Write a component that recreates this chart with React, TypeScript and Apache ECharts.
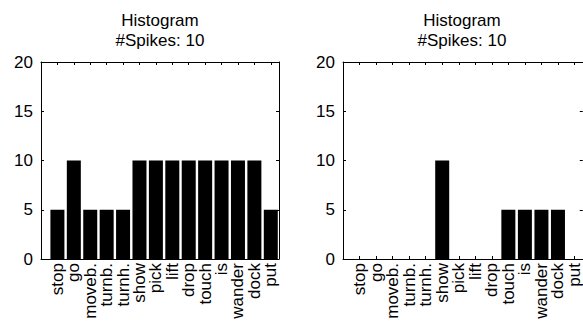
import React, { useEffect, useRef } from "react";
import * as echarts from "echarts";

const categories = ["stop", "go", "moveb.", "turnb.", "turnh.", "show", "pick", "lift", "drop", "touch", "is", "wander", "dock", "put"];
const leftValues = [5, 10, 5, 5, 5, 10, 10, 10, 10, 10, 10, 10, 10, 5];
const rightValues = [0, 0, 0, 0, 0, 10, 0, 0, 0, 5, 5, 5, 5, 0];
const titleLine1 = "Histogram";
const titleLine2 = "#Spikes: 10";
const yTicks = [0, 5, 10, 15, 20];

const FONT = "Liberation Sans, Arial, Helvetica, sans-serif";

export default function App() {
  const ref = useRef<HTMLDivElement>(null);
  useEffect(() => {
    if (!ref.current) return;
    const chart = echarts.init(ref.current, null, { renderer: "svg" });
    const grids = [
      { left: 41, top: 62, width: 238, height: 197 },
      { left: 343, top: 62, width: 240, height: 197 },
    ];
    const xAxes: any[] = [];
    const yAxes: any[] = [];
    grids.forEach((g, i) => {
      const base = {
        type: "value",
        min: 0,
        max: categories.length + 0.5,
        interval: 1,
        gridIndex: i,
        splitLine: { show: false },
        axisLine: { show: true, onZero: false, lineStyle: { color: "#000", width: 1 } },
        axisTick: { show: true, inside: true, length: 3, lineStyle: { color: "#000" } },
      };
      xAxes.push({
        ...base,
        position: "bottom",
        axisLabel: {
          show: true,
          rotate: 90,
          margin: 4,
          fontSize: 17,
          fontFamily: FONT,
          color: "#000",
          showMinLabel: true,
          showMaxLabel: true,
          formatter: (v: number) => (Number.isInteger(v) && v >= 1 && v <= categories.length ? categories[v - 1] : ""),
        },
      });
      xAxes.push({ ...base, position: "top", axisLabel: { show: false } });
      const ybase = {
        type: "value",
        min: yTicks[0],
        max: yTicks[yTicks.length - 1],
        interval: 5,
        gridIndex: i,
        splitLine: { show: false },
        axisLine: { show: true, onZero: false, lineStyle: { color: "#000", width: 1 } },
        axisTick: { show: true, inside: true, length: 3, lineStyle: { color: "#000" } },
      };
      yAxes.push({
        ...ybase,
        position: "left",
        axisLabel: { show: true, margin: 8, fontSize: 17, fontFamily: FONT, color: "#000", padding: [6, 0, 0, 0] },
      });
      yAxes.push({ ...ybase, position: "right", axisLabel: { show: false } });
    });

    const mkData = (vals: number[]) => vals.map((v, i) => [i + 1, v]);
    const titleGraphics: any[] = [];
    grids.forEach((g) => {
      const cx = g.left + 238 / 2;
      titleGraphics.push({
        type: "text",
        x: cx,
        y: 20,
        style: { text: titleLine1, font: `17px ${FONT}`, fill: "#000", textAlign: "center", textVerticalAlign: "middle" },
      });
      titleGraphics.push({
        type: "text",
        x: cx,
        y: 40.5,
        style: { text: titleLine2, font: `17px ${FONT}`, fill: "#000", textAlign: "center", textVerticalAlign: "middle" },
      });
    });

    chart.setOption({
      animation: false,
      backgroundColor: "#fff",
      grid: grids,
      xAxis: xAxes,
      yAxis: yAxes,
      graphic: titleGraphics,
      series: [
        {
          type: "bar",
          xAxisIndex: 0,
          yAxisIndex: 0,
          data: mkData(leftValues),
          barWidth: 14,
          itemStyle: { color: "#000" },
        },
        {
          type: "bar",
          xAxisIndex: 2,
          yAxisIndex: 2,
          data: mkData(rightValues),
          barWidth: 14,
          itemStyle: { color: "#000" },
        },
      ],
    });
    return () => chart.dispose();
  }, []);
  return <div ref={ref} style={{ position: "fixed", left: 0, top: 0, width: 583, height: 325 }} />;
}
